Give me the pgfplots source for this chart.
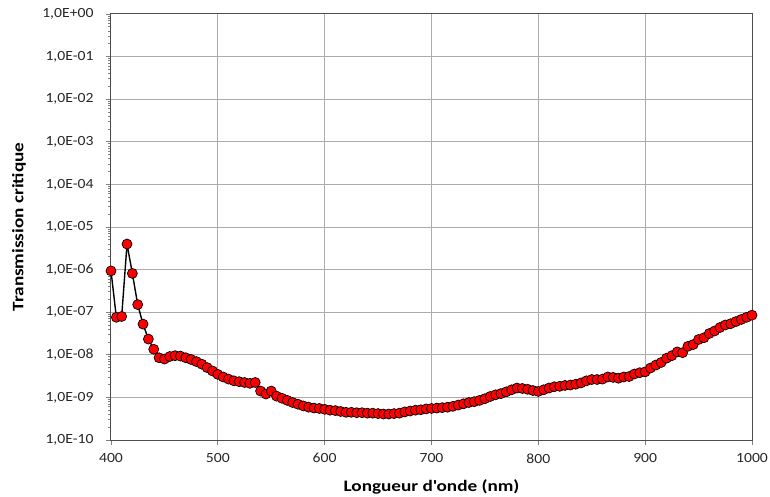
\documentclass[border=0pt]{standalone}
\usepackage{pgfplots}
\pgfplotsset{compat=1.18}
\usepackage{fontspec}
\setmainfont{Carlito}[FakeStretch=1.12]
\newfontfamily\labfont{Carlito}[FakeStretch=1.2]
\begin{document}
\begin{tikzpicture}
\path[use as bounding box] (-111pt,-57pt) rectangle (659pt,440pt);
\begin{axis}[
  at={(0pt,0pt)}, anchor=south west,
  scale only axis, width=641pt, height=426pt,
  ymode=log, xmin=400, xmax=1000, ymin=1e-10, ymax=1,
  xtick={400,500,...,1000},
  ytick={1e-10,1e-9,1e-8,1e-7,1e-6,1e-5,1e-4,1e-3,1e-2,1e-1,1},
  yticklabels={{1,0E-10},{1,0E-09},{1,0E-08},{1,0E-07},{1,0E-06},{1,0E-05},{1,0E-04},{1,0E-03},{1,0E-02},{1,0E-01},{1,0E+00}},
  minor ytick={},
  /pgf/number format/assume math mode=true,
  /pgf/number format/set thousands separator={},
  tick label style={font=\fontsize{14}{16}\selectfont, black!85},
  yticklabel style={xshift=-9pt},
  xticklabel style={yshift=-5pt},
  xtick pos=left, ytick pos=left, tick align=outside,
  major tick length=5pt,
  tick style={black!50, line width=0.8pt},
  grid=major,
  major grid style={draw=black!33, line width=1pt},
  axis line style={draw=black!70, line width=1pt},
  xlabel={\labfont\bfseries Longueur d'onde (nm)},
  ylabel={\labfont\bfseries Transmission critique},
  label style={font=\fontsize{16}{18}\selectfont},
  xlabel style={at={(axis description cs:0.5,-0.110)}, anchor=center},
  ylabel style={at={(axis description cs:-0.1435,0.5)}, anchor=center},
]
\addplot[black, line width=1.4pt, mark=*, mark size=5pt,
  mark options={fill=red, draw=black, line width=0.7pt}] coordinates {
(400,9.33e-7) (405,7.59e-8) (410,7.94e-8) (415,3.98e-6) (420,8.13e-7)
(425,1.51e-7) (430,5.25e-8) (435,2.34e-8) (440,1.35e-8) (445,8.51e-9)
(450,7.94e-9) (455,9.12e-9) (460,9.55e-9) (465,9.33e-9) (470,8.51e-9)
(475,7.76e-9) (480,6.92e-9) (485,6.03e-9) (490,5.01e-9) (495,4.17e-9)
(500,3.47e-9) (505,3.02e-9) (510,2.69e-9) (515,2.45e-9) (520,2.34e-9)
(525,2.24e-9) (530,2.14e-9) (535,2.24e-9) (540,1.41e-9) (545,1.20e-9)
(550,1.41e-9) (555,1.07e-9) (560,9.55e-10) (565,8.51e-10) (570,7.59e-10)
(575,6.92e-10) (580,6.31e-10) (585,5.89e-10) (590,5.62e-10) (595,5.50e-10)
(600,5.25e-10) (605,5.01e-10) (610,4.90e-10) (615,4.68e-10) (620,4.47e-10)
(625,4.47e-10) (630,4.37e-10) (635,4.37e-10) (640,4.27e-10) (645,4.27e-10)
(650,4.17e-10) (655,4.07e-10) (660,4.07e-10) (665,4.17e-10) (670,4.27e-10)
(675,4.57e-10) (680,4.79e-10) (685,5.01e-10) (690,5.13e-10) (695,5.37e-10)
(700,5.50e-10) (705,5.62e-10) (710,5.75e-10) (715,5.89e-10) (720,6.17e-10)
(725,6.61e-10) (730,7.08e-10) (735,7.59e-10) (740,7.94e-10) (745,8.51e-10)
(750,9.33e-10) (755,1.05e-9) (760,1.15e-9) (765,1.23e-9) (770,1.35e-9)
(775,1.51e-9) (780,1.66e-9) (785,1.62e-9) (790,1.55e-9) (795,1.45e-9)
(800,1.38e-9) (805,1.51e-9) (810,1.66e-9) (815,1.78e-9) (820,1.82e-9)
(825,1.91e-9) (830,1.95e-9) (835,2.04e-9) (840,2.19e-9) (845,2.45e-9)
(850,2.63e-9) (855,2.63e-9) (860,2.69e-9) (865,3.02e-9) (870,2.95e-9)
(875,2.82e-9) (880,3.02e-9) (885,3.09e-9) (890,3.55e-9) (895,3.80e-9)
(900,3.98e-9) (905,4.90e-9) (910,5.75e-9) (915,6.61e-9) (920,8.32e-9)
(925,9.55e-9) (930,1.17e-8) (935,1.12e-8) (940,1.58e-8) (945,1.74e-8)
(950,2.29e-8) (955,2.51e-8) (960,3.16e-8) (965,3.63e-8) (970,4.37e-8)
(975,5.01e-8) (980,5.37e-8) (985,6.03e-8) (990,6.76e-8) (995,7.59e-8)
(1000,8.51e-8)
};
\end{axis}
\end{tikzpicture}
\end{document}
